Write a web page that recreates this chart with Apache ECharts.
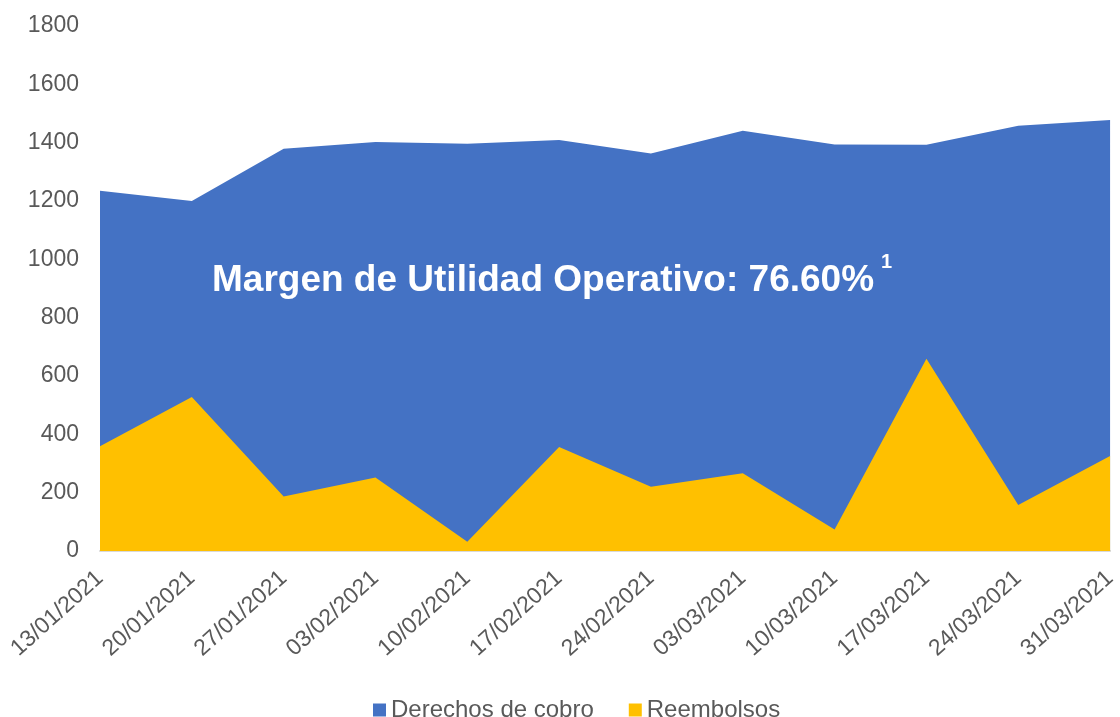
<!DOCTYPE html>
<html>
<head>
<meta charset="utf-8">
<script src="https://cdn.jsdelivr.net/npm/echarts@6/dist/echarts.min.js"></script>
<style>
  html, body { margin: 0; padding: 0; background: #fff; overflow: hidden; }
  #chart { width: 1120px; height: 717px; }
</style>
</head>
<body>
<div id="chart"></div>
<script>
// semanas
var fechas = ['13/01/2021', '20/01/2021', '27/01/2021', '03/02/2021', '10/02/2021', '17/02/2021',
  '24/02/2021', '03/03/2021', '10/03/2021', '17/03/2021', '24/03/2021', '31/03/2021'];
var derechosCobro = [1235, 1200, 1379, 1402, 1396, 1409, 1363, 1441, 1394, 1393, 1458, 1478];
var reembolsos = [359, 528, 187, 252, 32, 357, 220, 267, 74, 659, 158, 326];
var yTicks = [0, 200, 400, 600, 800, 1000, 1200, 1400, 1600, 1800];

var chart = echarts.init(document.getElementById('chart'));
var fuente = '"Liberation Sans", Arial, sans-serif';

chart.setOption({
  backgroundColor: '#fff',
  animation: false,
  textStyle: { fontFamily: fuente },
  grid: { left: 100, right: 5, top: 26, bottom: 166, containLabel: false },
  legend: {
    top: 693,
    left: 368,
    itemWidth: 13,
    itemHeight: 13,
    itemGap: 35,
    icon: 'rect',
    textStyle: { fontSize: 24, color: '#595959', fontFamily: fuente },
    data: ['Derechos de cobro', 'Reembolsos']
  },
  xAxis: {
    type: 'category',
    boundaryGap: false,
    data: fechas,
    axisLine: { lineStyle: { color: '#d9d9d9', width: 2 } },
    axisTick: { show: false },
    axisLabel: { rotate: 42, fontSize: 23, color: '#595959', margin: 24, fontFamily: fuente }
  },
  yAxis: {
    type: 'value',
    min: yTicks[0],
    max: yTicks[yTicks.length - 1],
    interval: 200,
    axisLine: { show: false },
    axisTick: { show: false },
    splitLine: { show: false },
    axisLabel: {
      fontSize: 23, color: '#595959', margin: 21, fontFamily: fuente,
      formatter: function (v) { return String(v); }
    }
  },
  series: [{
    name: 'Derechos de cobro',
    type: 'line',
    data: derechosCobro,
    symbol: 'none',
    lineStyle: { width: 0 },
    itemStyle: { color: '#4472C4' },
    areaStyle: { color: '#4472C4', opacity: 1 }
  }, {
    name: 'Reembolsos',
    type: 'line',
    data: reembolsos,
    symbol: 'none',
    lineStyle: { width: 0 },
    itemStyle: { color: '#FFC000' },
    areaStyle: { color: '#FFC000', opacity: 1 }
  }],
  graphic: [{
    type: 'text',
    left: 212,
    top: 262,
    z: 100,
    style: {
      text: 'Margen de Utilidad Operativo: 76.60%',
      fill: '#fff',
      font: 'bold 37px ' + fuente
    }
  }, {
    type: 'text',
    left: 881,
    top: 252,
    z: 100,
    style: {
      text: '1',
      fill: '#fff',
      font: 'bold 20px ' + fuente
    }
  }]
});
</script>
</body>
</html>
